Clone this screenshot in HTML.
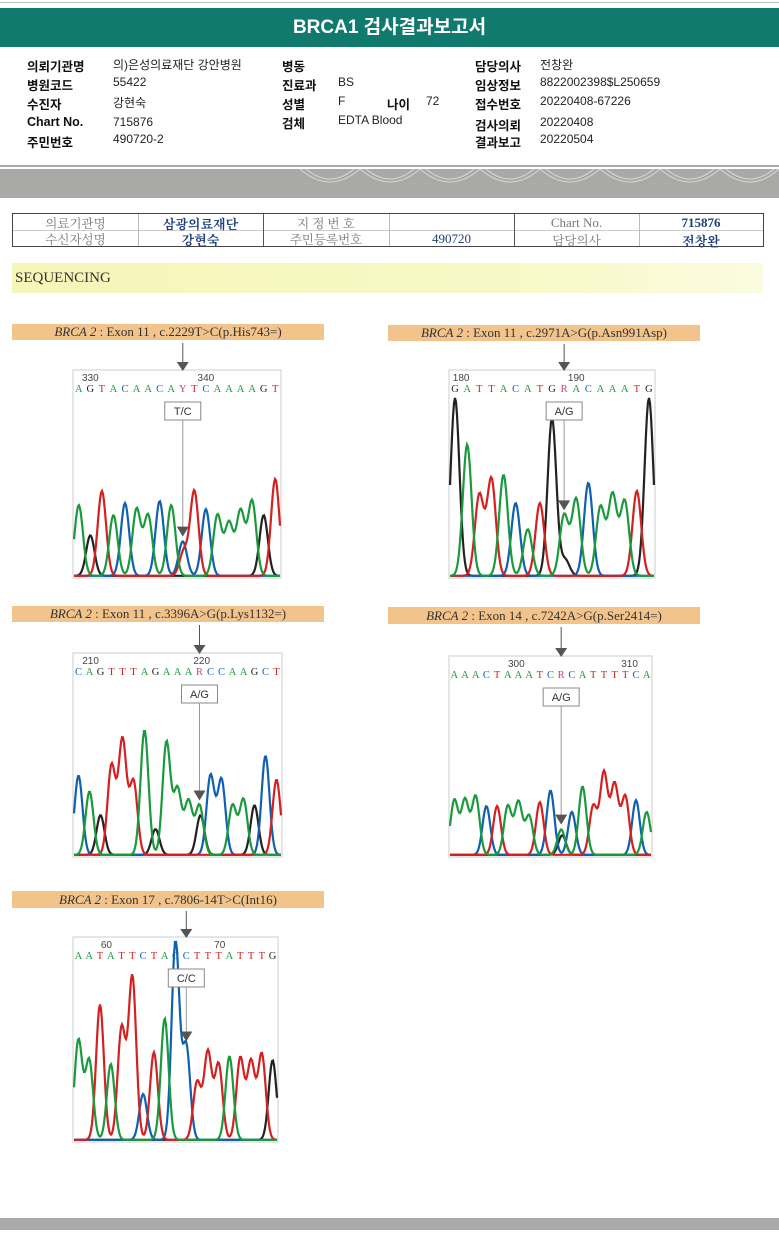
<!DOCTYPE html>
<html><head><meta charset="utf-8">
<style>
body{margin:0;background:#fff;}
#page{position:relative;width:779px;height:1240px;overflow:hidden;background:#fff;font-family:"Liberation Sans","Noto Sans CJK KR",sans-serif;}
.abs{position:absolute;white-space:nowrap;}
.lb{font-weight:bold;font-size:12.5px;color:#111;}
.vl{font-size:12px;color:#222;}
.tc{position:absolute;font-family:"Liberation Serif","Noto Serif CJK SC",serif;font-size:12.5px;color:#777;text-align:center;}
.tv{position:absolute;font-family:"Liberation Serif","Noto Serif CJK SC",serif;font-size:13px;color:#1c3f7a;font-weight:bold;text-align:center;}
</style></head>
<body>
<div id="page">
<div class="abs" style="left:0;top:2px;width:779px;height:1px;background:#bbb"></div>
<div class="abs" style="left:0;top:8px;width:779px;height:39px;background:#107a6e;color:#fff;font-size:19px;font-weight:bold;text-align:center;line-height:39px">BRCA1 검사결과보고서</div>

<div>
<div class="abs lb" style="left:27px;top:56px">의뢰기관명</div><div class="abs vl" style="left:113px;top:56px">의)은성의료재단 강안병원</div>
<div class="abs lb" style="left:27px;top:75px">병원코드</div><div class="abs vl" style="left:113px;top:75px">55422</div>
<div class="abs lb" style="left:27px;top:94px">수진자</div><div class="abs vl" style="left:113px;top:94px">강현숙</div>
<div class="abs lb" style="left:27px;top:115px">Chart No.</div><div class="abs vl" style="left:113px;top:115px">715876</div>
<div class="abs lb" style="left:27px;top:132px">주민번호</div><div class="abs vl" style="left:113px;top:132px">490720-2</div>
<div class="abs lb" style="left:282px;top:56px">병동</div>
<div class="abs lb" style="left:282px;top:75px">진료과</div><div class="abs vl" style="left:338px;top:75px">BS</div>
<div class="abs lb" style="left:282px;top:94px">성별</div><div class="abs vl" style="left:338px;top:94px">F</div>
<div class="abs lb" style="left:387px;top:94px">나이</div><div class="abs vl" style="left:426px;top:94px">72</div>
<div class="abs lb" style="left:282px;top:113px">검체</div><div class="abs vl" style="left:338px;top:113px">EDTA Blood</div>
<div class="abs lb" style="left:475px;top:56px">담당의사</div><div class="abs vl" style="left:540px;top:56px">전창완</div>
<div class="abs lb" style="left:475px;top:75px">임상정보</div><div class="abs vl" style="left:540px;top:75px">8822002398$L250659</div>
<div class="abs lb" style="left:475px;top:94px">접수번호</div><div class="abs vl" style="left:540px;top:94px">20220408-67226</div>
<div class="abs lb" style="left:475px;top:115px">검사의뢰</div><div class="abs vl" style="left:540px;top:115px">20220408</div>
<div class="abs lb" style="left:475px;top:132px">결과보고</div><div class="abs vl" style="left:540px;top:132px">20220504</div>
</div>

<div class="abs" style="left:0;top:165px;width:779px;height:2px;background:#aaa"></div>
<svg class="abs" style="left:0;top:169px" width="779" height="29">
<rect width="779" height="29" fill="#a9aaa8"/>
<g fill="none" stroke="#d8d8d6" stroke-width="1">
<path d="M300 0 Q330 26 360 0 Q390 26 420 0 Q450 26 480 0 Q510 26 540 0 Q570 26 600 0 Q630 26 660 0 Q690 26 720 0 Q750 26 779 0"/>
<path d="M306 0 Q330 20 354 0 M366 0 Q390 20 414 0 M426 0 Q450 20 474 0 M486 0 Q510 20 534 0 M546 0 Q570 20 594 0 M606 0 Q630 20 654 0 M666 0 Q690 20 714 0 M726 0 Q750 20 774 0"/>
</g></svg>

<div class="abs" style="left:12px;top:213px;width:750px;height:32px;border:1.5px solid #444">
<div class="abs" style="left:0;top:16px;width:750px;height:1px;background:#ccc"></div>
<div class="abs" style="left:125px;top:0;width:1px;height:32px;background:#bbb"></div>
<div class="abs" style="left:250px;top:0;width:1px;height:32px;background:#555"></div>
<div class="abs" style="left:376px;top:0;width:1px;height:32px;background:#bbb"></div>
<div class="abs" style="left:501px;top:0;width:1px;height:32px;background:#555"></div>
<div class="abs" style="left:626px;top:0;width:1px;height:32px;background:#bbb"></div>
<div class="tc" style="left:0;top:0;width:125px">의료기관명</div>
<div class="tc" style="left:0;top:16px;width:125px">수신자성명</div>
<div class="tv" style="left:125px;top:0;width:125px">삼광의료재단</div>
<div class="tv" style="left:125px;top:16px;width:125px">강현숙</div>
<div class="tc" style="left:250px;top:0;width:126px">지 정 번 호</div>
<div class="tc" style="left:250px;top:16px;width:126px">주민등록번호</div>
<div class="tv" style="left:376px;top:17px;width:125px;font-weight:normal">490720</div>
<div class="tc" style="left:501px;top:1px;width:125px;font-size:13px">Chart No.</div>
<div class="tc" style="left:501px;top:17px;width:125px">담당의사</div>
<div class="tv" style="left:626px;top:1px;width:124px">715876</div>
<div class="tv" style="left:626px;top:17px;width:124px">전창완</div>
</div>

<div class="abs" style="left:12px;top:263px;width:751px;height:30px;background:linear-gradient(90deg,#f6f6b8,#f8f8c8 70%,#fbfbe0);font-family:'Liberation Serif',serif;font-size:15px;color:#333;line-height:30px;padding-left:3px;box-sizing:border-box">SEQUENCING</div>

<svg id="charts" class="abs" style="left:0;top:0" width="779" height="1240"></svg>

<div class="abs" style="left:0;top:1218px;width:779px;height:12px;background:#a9aaa8"></div>
</div>

<script>
// ---- data ----
const p1Title = "Exon 11 , c.2229T>C(p.His743=)";
const p1Bases = "AGTACAACAYTCAAAAGT";
const p1Heights = [0.35,0.2,0.42,0.3,0.36,0.33,0.3,0.37,0.35,0.17,0.42,0.33,0.3,0.26,0.32,0.37,0.3,0.48];
const p1Ticks = [330,340];
const p1Call = "T/C";
const p1Secondary = {base:"T", height:0.12};

const p2Title = "Exon 11 , c.2971A>G(p.Asn991Asp)";
const p2Bases = "GATTACATGRACAAATG";
const p2Heights = [0.88,0.65,0.4,0.48,0.5,0.36,0.23,0.36,0.78,0.3,0.38,0.46,0.34,0.4,0.37,0.42,0.88];
const p2Ticks = [180,190];
const p2Call = "A/G";
const p2Secondary = {base:"G", height:0.08};

const p3Title = "Exon 11 , c.3396A>G(p.Lys1132=)";
const p3Bases = "CAGTTTAGAAARCCAAGCT";
const p3Heights = [0.4,0.32,0.2,0.45,0.58,0.37,0.63,0.13,0.57,0.33,0.27,0.25,0.4,0.38,0.25,0.28,0.25,0.5,0.38];
const p3Ticks = [210,220];
const p3Call = "A/G";
const p3Secondary = {base:"G", height:0.2};

const p4Title = "Exon 14 , c.7242A>G(p.Ser2414=)";
const p4Bases = "AAACTAAATCRCATTTTCA";
const p4Heights = [0.28,0.28,0.3,0.25,0.25,0.25,0.27,0.2,0.27,0.33,0.13,0.22,0.35,0.25,0.42,0.36,0.3,0.28,0.22];
const p4Ticks = [300,310];
const p4Call = "A/G";
const p4Secondary = {base:"G", height:0.1};

const p5Title = "Exon 17 , c.7806-14T>C(Int16)";
const p5Bases = "AATATTCTACCTTTATTTG";
const p5Heights = [0.5,0.4,0.68,0.38,0.56,0.82,0.23,0.44,0.61,1.0,0.47,0.29,0.44,0.38,0.42,0.41,0.39,0.43,0.4];
const p5Ticks = [60,70];
const p5Call = "C/C";
const p5Secondary = null;

// ---- layout (positions only) ----
const layouts = [
 {title:p1Title,bases:p1Bases,h:p1Heights,ticks:p1Ticks,call:p1Call,sec:p1Secondary,var:9,bar:[12,324,324,340],box:[73,281,370,578],tickIdx:[1.5,11.5]},
 {title:p2Title,bases:p2Bases,h:p2Heights,ticks:p2Ticks,call:p2Call,sec:p2Secondary,var:9,bar:[388,700,325,341],box:[449,655,370,578],tickIdx:[1,10.5]},
 {title:p3Title,bases:p3Bases,h:p3Heights,ticks:p3Ticks,call:p3Call,sec:p3Secondary,var:11,bar:[12,324,606,622],box:[73,282,653,857],tickIdx:[1.6,11.7]},
 {title:p4Title,bases:p4Bases,h:p4Heights,ticks:p4Ticks,call:p4Call,sec:p4Secondary,var:10,bar:[388,700,607,624],box:[449,652,656,857],tickIdx:[6.3,16.9]},
 {title:p5Title,bases:p5Bases,h:p5Heights,ticks:p5Ticks,call:p5Call,sec:p5Secondary,var:10,bar:[12,324,891,908],box:[73,278,937,1142],tickIdx:[3.1,13.6]}
];
const colors = {A:"#1a9a3c",C:"#1060b0",G:"#222222",T:"#d42020"};
const NS = "http://www.w3.org/2000/svg";
const svg = document.getElementById('charts');
function mk(tag, attrs, parent){const e=document.createElementNS(NS,tag);for(const k in attrs)e.setAttribute(k,attrs[k]);(parent||svg).appendChild(e);return e;}
function primary(b){return b==='Y'?'C':b==='R'?'A':b;}

layouts.forEach((L,pi)=>{
  const g = mk('g',{});
  
  
  const [bx0,bx1,by0,by1]=L.bar;
  const bar = mk('rect',{x:bx0,y:by0,width:bx1-bx0,height:by1-by0,fill:'#f2c48c'},g);
  
  
  const t = mk('text',{x:(bx0+bx1)/2,y:by1-4,'text-anchor':'middle','font-family':'Liberation Serif, serif','font-size':'13','fill':'#333'},g);
  
  
  const ti = mk('tspan',{'font-style':'italic'},t); ti.textContent='BRCA 2';
  const tr = mk('tspan',{},t); tr.textContent=' : '+L.title;
  const [x0,x1,y0,y1]=L.box;
  const n=L.bases.length;
  const sp=(x1-x0)/n;
  const xAt=i=>x0+sp*(i+0.5);
  const yAt=v=>y1-1-v*(y1-y0-6);
  const box = mk('rect',{x:x0,y:y0,width:x1-x0,height:y1-y0,fill:'#fff',stroke:'#ccc','stroke-width':1},g);
  
  
  L.ticks.forEach((tv,k)=>{
    const tt=mk('text',{x:x0+sp*L.tickIdx[k],y:y0+11,'text-anchor':'middle','font-size':'10','fill':'#444','font-family':'Liberation Sans, sans-serif'},g);
    
    
    tt.textContent=tv;
  });
  for(let i=0;i<n;i++){
    const b=L.bases[i];
    const c=(b==='Y'||b==='R')?'#c8408a':colors[b];
    const bt=mk('text',{x:xAt(i),y:y0+22,'text-anchor':'middle','font-size':'10.5','fill':c,'font-family':'Liberation Serif, serif'},g);
    
    
    bt.textContent=b;
  }
  const sig=sp*0.36;
  ['G','C','T','A'].forEach(col=>{
    let d='';
    for(let x=x0+1;x<=x1-1;x+=1){
      let v=0.006;
      for(let i=0;i<n;i++){
        if(primary(L.bases[i])===col) v+=L.h[i]*Math.exp(-Math.pow(x-xAt(i),2)/(2*sig*sig));
        if(i===L.var && L.sec && L.sec.base===col) v+=L.sec.height*Math.exp(-Math.pow(x-xAt(i)-1,2)/(2*sig*sig));
      }
      d+=(d?'L':'M')+x.toFixed(1)+' '+yAt(Math.min(v,1)).toFixed(1);
    }
    const p=mk('path',{d:d,fill:'none',stroke:colors[col],'stroke-width':2.2},g);
    
    
  });
  const vx=xAt(L.var);
  const a1=mk('path',{d:`M${vx} ${by1+3}L${vx} ${y0-4}`,stroke:'#555','stroke-width':1},g);
  
  
  mk('path',{d:`M${vx-6} ${y0-8}L${vx+6} ${y0-8}L${vx} ${y0+1}Z`,fill:'#555'},g);
  const cy=y0+32, cw=36, ch=18;
  const cb=mk('rect',{x:vx-cw/2,y:cy,width:cw,height:ch,fill:'#fff',stroke:'#888','stroke-width':1},g);
  
  
  const ct=mk('text',{x:vx,y:cy+13,'text-anchor':'middle','font-size':'11','fill':'#333','font-family':'Liberation Sans, sans-serif'},g);
  
  
  ct.textContent=L.call;
  const peakY=yAt(Math.max(L.h[L.var],L.sec?L.sec.height:0))-6;
  mk('path',{d:`M${vx} ${cy+ch}L${vx} ${peakY-8}`,stroke:'#999','stroke-width':1},g);
  mk('path',{d:`M${vx-6} ${peakY-10}L${vx+6} ${peakY-10}L${vx} ${peakY}Z`,fill:'#555'},g);
});
</script>
</body></html>
